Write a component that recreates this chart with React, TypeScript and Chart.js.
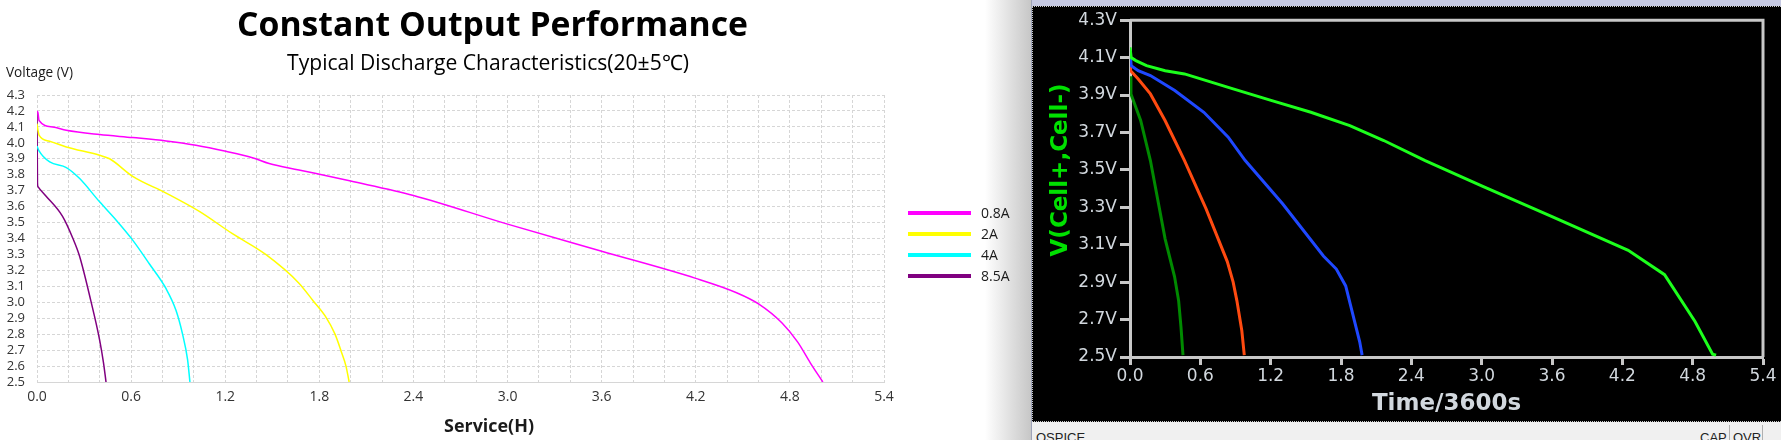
import React, { useEffect, useRef } from 'react';
import { Chart, registerables } from 'chart.js';

Chart.register(...registerables);

// ---------- Left chart (Excel style) ----------
const leftTitle = 'Constant Output Performance';
const leftSubtitle = 'Typical Discharge Characteristics(20±5℃)';
const leftYTitle = 'Voltage (V)';
const leftXTitle = 'Service(H)';
const leftLabels = ['0.8A', '2A', '4A', '8.5A'];
const leftColors = ['#ff00ff', '#ffff00', '#00ffff', '#800080'];

const left08T = [0, 0.006, 0.013, 0.1, 0.187, 0.399, 0.61, 0.823, 1.013, 1.204, 1.373, 1.48, 1.67, 2.0, 2.4, 3.0, 3.6, 4.2, 4.46, 4.6, 4.75, 4.85, 4.93, 5.01];
const left08V = [4.2, 4.19, 4.14, 4.1, 4.079, 4.052, 4.033, 4.012, 3.985, 3.947, 3.907, 3.87, 3.83, 3.76, 3.67, 3.49, 3.32, 3.15, 3.06, 2.99, 2.87, 2.75, 2.62, 2.5];

const left2T = [0, 0.006, 0.013, 0.08, 0.187, 0.399, 0.463, 0.61, 0.823, 1.035, 1.246, 1.458, 1.67, 1.76, 1.84, 1.9, 1.94, 1.97, 1.99];
const left2V = [4.12, 4.08, 4.048, 4.01, 3.974, 3.922, 3.9, 3.79, 3.685, 3.57, 3.43, 3.3, 3.12, 3.01, 2.91, 2.8, 2.69, 2.6, 2.5];

const left4T = [0, 0.013, 0.081, 0.187, 0.272, 0.399, 0.505, 0.61, 0.717, 0.823, 0.886, 0.928, 0.96, 0.975];
const left4V = [3.98, 3.95, 3.88, 3.845, 3.776, 3.63, 3.515, 3.39, 3.24, 3.085, 2.95, 2.8, 2.64, 2.5];

const left85T = [0, 0.003, 0.006, 0.054, 0.162, 0.229, 0.271, 0.343, 0.4, 0.424, 0.44];
const left85V = [4.2, 3.75, 3.725, 3.67, 3.54, 3.4, 3.29, 3.01, 2.76, 2.62, 2.5];

const leftXMin = 0, leftXMax = 5.4, leftXStep = 0.2, leftXLabelStep = 0.6;
const leftYMin = 2.5, leftYMax = 4.3, leftYStep = 0.1;

// ---------- Right chart (QSPICE style) ----------
const rightYTitle = 'V(Cell+,Cell-)';
const rightXTitle = 'Time/3600s';
const rightColors = ['#1cff1c', '#1f48ff', '#ff4a10', '#008a00'];

const rightAT = [0, 0.01, 0.05, 0.141, 0.3, 0.465, 0.88, 1.21, 1.543, 1.875, 2.165, 2.518, 3.0, 3.6, 4.25, 4.56, 4.82, 4.97, 5.0];
const rightAV = [4.155, 4.1, 4.084, 4.057, 4.03, 4.013, 3.933, 3.87, 3.808, 3.737, 3.657, 3.55, 3.415, 3.25, 3.07, 2.94, 2.69, 2.515, 2.51];

const rightBT = [0, 0.01, 0.07, 0.174, 0.382, 0.63, 0.838, 0.983, 1.3, 1.65, 1.76, 1.84, 1.88, 1.92, 1.96, 1.98];
const rightBV = [4.12, 4.057, 4.03, 4.004, 3.924, 3.808, 3.675, 3.55, 3.32, 3.04, 2.97, 2.88, 2.78, 2.68, 2.58, 2.51];

const rightCT = [0, 0.005, 0.07, 0.174, 0.299, 0.382, 0.465, 0.65, 0.83, 0.88, 0.912, 0.954, 0.975];
const rightCV = [4.09, 4.03, 3.986, 3.906, 3.764, 3.657, 3.55, 3.29, 3.01, 2.9, 2.8, 2.64, 2.51];

const rightDT = [0, 0.008, 0.091, 0.174, 0.3, 0.38, 0.415, 0.435, 0.452];
const rightDV = [4.0, 3.906, 3.764, 3.55, 3.13, 2.93, 2.8, 2.66, 2.51];

const rightXMin = 0, rightXMax = 5.4, rightXStep = 0.6;
const rightYMin = 2.5, rightYMax = 4.3, rightYStep = 0.2;

const zip = (xs: number[], ys: number[]) => xs.map((x, i) => ({ x, y: ys[i] }));
const isMult = (v: number, step: number) => Math.abs(v / step - Math.round(v / step)) < 1e-6;

function fitFont(ctx: CanvasRenderingContext2D, text: string, weight: string, family: string, target: number) {
  ctx.font = `${weight} 100px ${family}`;
  const w = ctx.measureText(text).width;
  const size = (100 * target) / w;
  ctx.font = `${weight} ${size}px ${family}`;
}

const LEFT_W = 1032;
const LEFT_H = 440;
const RIGHT_W = 746;
const RIGHT_H = 414;

export default function App() {
  const leftRef = useRef<HTMLCanvasElement>(null);
  const rightRef = useRef<HTMLCanvasElement>(null);

  useEffect(() => {
    const leftPlugin = {
      id: 'leftDecor',
      beforeDraw(chart: any) {
        const ctx = chart.ctx as CanvasRenderingContext2D;
        ctx.save();
        ctx.fillStyle = '#ffffff';
        ctx.fillRect(0, 0, chart.width, chart.height);
        const g = ctx.createLinearGradient(985, 0, 1032, 0);
        g.addColorStop(0, 'rgba(140,140,140,0)');
        g.addColorStop(1, 'rgba(140,140,140,0.5)');
        ctx.fillStyle = g;
        ctx.fillRect(985, 0, 47, chart.height);
        ctx.restore();
      },
      afterDraw(chart: any) {
        const ctx = chart.ctx as CanvasRenderingContext2D;
        ctx.save();
        ctx.textBaseline = 'alphabetic';
        ctx.fillStyle = '#000';
        ctx.textAlign = 'center';
        fitFont(ctx, leftTitle, 'bold', "'Open Sans'", 511);
        ctx.fillText(leftTitle, 492.5, 36);
        fitFont(ctx, leftSubtitle, 'normal', "'Open Sans'", 402);
        ctx.fillText(leftSubtitle, 488, 70);
        ctx.fillStyle = '#1a1a1a';
        fitFont(ctx, leftXTitle, 'bold', "'Open Sans'", 90);
        ctx.fillText(leftXTitle, 489, 432);
        ctx.textAlign = 'left';
        fitFont(ctx, leftYTitle, 'normal', "'Open Sans'", 67);
        ctx.fillText(leftYTitle, 6, 77);
        // legend
        const rows = [213, 234, 255, 276];
        ctx.font = "14px 'Open Sans'";
        ctx.textBaseline = 'middle';
        chart.data.datasets.forEach((ds: any, i: number) => {
          const y = rows[i];
          ctx.strokeStyle = ds.borderColor;
          ctx.lineWidth = 4;
          ctx.beginPath();
          ctx.moveTo(908, y);
          ctx.lineTo(971, y);
          ctx.stroke();
          ctx.fillStyle = '#1a1a1a';
          ctx.fillText(ds.label, 981, y + 1);
        });
        ctx.restore();
      },
    };

    const leftDatasets = [
      [left08T, left08V],
      [left2T, left2V],
      [left4T, left4V],
      [left85T, left85V],
    ].map(([t, v], i) => ({
      label: leftLabels[i],
      data: zip(t, v),
      borderColor: leftColors[i],
      backgroundColor: leftColors[i],
      borderWidth: 1.5,
      pointRadius: 0,
      cubicInterpolationMode: 'monotone' as const,
      fill: false,
    }));

    const leftChart = new Chart(leftRef.current!, {
      type: 'line',
      data: { datasets: leftDatasets },
      options: {
        responsive: false,
        animation: false,
        devicePixelRatio: 1,
        layout: { padding: { top: 95, right: LEFT_W - 884, left: 0, bottom: 0 } },
        plugins: { legend: { display: false }, title: { display: false }, tooltip: { enabled: false } },
        scales: {
          x: {
            type: 'linear',
            min: leftXMin,
            max: leftXMax,
            afterFit: (s: any) => { s.height = LEFT_H - 382; },
            ticks: {
              stepSize: leftXStep,
              autoSkip: false,
              maxRotation: 0,
              padding: 7,
              color: '#333',
              font: { family: "'Open Sans'", size: 14 },
              callback: (v: any) => (isMult(Number(v), leftXLabelStep) ? Number(v).toFixed(1) : ''),
            },
            grid: { color: '#d6d6d6', drawTicks: false, lineWidth: 1 },
            border: { display: true, color: '#d6d6d6', width: 1, dash: [3, 2] },
          },
          y: {
            type: 'linear',
            min: leftYMin,
            max: leftYMax,
            afterFit: (s: any) => { s.width = 37; },
            ticks: {
              stepSize: leftYStep,
              autoSkip: false,
              padding: 12,
              color: '#333',
              font: { family: "'Open Sans'", size: 13 },
              callback: (v: any) => Number(v).toFixed(1),
            },
            grid: { color: '#d6d6d6', drawTicks: false, lineWidth: 1 },
            border: { display: false, dash: [3, 2] },
          },
        },
      },
      plugins: [leftPlugin],
    });

    const rightPlugin = {
      id: 'rightDecor',
      beforeDraw(chart: any) {
        const ctx = chart.ctx as CanvasRenderingContext2D;
        ctx.save();
        ctx.fillStyle = '#000';
        ctx.fillRect(0, 0, chart.width, chart.height);
        ctx.restore();
      },
      afterDraw(chart: any) {
        const ctx = chart.ctx as CanvasRenderingContext2D;
        const a = chart.chartArea;
        ctx.save();
        ctx.strokeStyle = '#c8c8c8';
        ctx.lineWidth = 3;
        ctx.beginPath();
        ctx.moveTo(a.left, a.top);
        ctx.lineTo(a.right, a.top);
        ctx.lineTo(a.right, a.bottom);
        ctx.stroke();
        ctx.fillStyle = '#d2d8de';
        ctx.font = "bold 23px 'DejaVu Sans'";
        ctx.textAlign = 'center';
        ctx.textBaseline = 'alphabetic';
        ctx.fillText(rightXTitle, (a.left + a.right) / 2, 403);
        ctx.translate(26, 163);
        ctx.rotate(-Math.PI / 2);
        ctx.fillStyle = '#00e000';
        ctx.textBaseline = 'middle';
        ctx.fillText(rightYTitle, 0, 0);
        ctx.restore();
      },
    };

    const rightDatasets = [
      [rightAT, rightAV],
      [rightBT, rightBV],
      [rightCT, rightCV],
      [rightDT, rightDV],
    ].map(([t, v], i) => ({
      label: leftLabels[i],
      data: zip(t, v),
      borderColor: rightColors[i],
      backgroundColor: rightColors[i],
      borderWidth: 3,
      pointRadius: 0,
      tension: 0,
      fill: false,
    }));

    const rightChart = new Chart(rightRef.current!, {
      type: 'line',
      data: { datasets: rightDatasets },
      options: {
        responsive: false,
        animation: false,
        devicePixelRatio: 1,
        layout: { padding: { top: 12.5, right: RIGHT_W - 728, left: 0, bottom: 0 } },
        plugins: { legend: { display: false }, title: { display: false }, tooltip: { enabled: false } },
        scales: {
          x: {
            type: 'linear',
            min: rightXMin,
            max: rightXMax,
            afterFit: (s: any) => { s.height = RIGHT_H - 350; },
            ticks: {
              stepSize: rightXStep,
              autoSkip: false,
              maxRotation: 0,
              padding: 1,
              color: '#d2d8de',
              font: { family: "'DejaVu Sans'", size: 17 },
              callback: (v: any) => Number(v).toFixed(1),
            },
            grid: { drawOnChartArea: false, drawTicks: true, tickLength: 8, tickWidth: 3, tickColor: '#c8c8c8' },
            border: { display: true, color: '#c8c8c8', width: 3 },
          },
          y: {
            type: 'linear',
            min: rightYMin,
            max: rightYMax,
            afterFit: (s: any) => { s.width = 95; },
            ticks: {
              stepSize: rightYStep,
              autoSkip: false,
              padding: 3,
              color: '#d2d8de',
              font: { family: "'DejaVu Sans'", size: 17 },
              callback: (v: any) => Number(v).toFixed(1) + 'V',
            },
            grid: { drawOnChartArea: false, drawTicks: true, tickLength: 10, tickWidth: 3, tickColor: '#c8c8c8' },
            border: { display: true, color: '#c8c8c8', width: 3 },
          },
        },
      },
      plugins: [rightPlugin],
    });

    return () => {
      leftChart.destroy();
      rightChart.destroy();
    };
  }, []);

  return (
    <div style={{ position: 'absolute', left: 0, top: 0, width: 1781, height: 440, overflow: 'hidden', background: '#fff' }}>
      <canvas ref={leftRef} width={LEFT_W} height={LEFT_H} style={{ position: 'absolute', left: 0, top: 0, width: LEFT_W, height: LEFT_H }} />
      <div style={{ position: 'absolute', left: 1031, top: 0, width: 1, height: 440, background: '#9ea3b8' }} />
      <div style={{ position: 'absolute', left: 1032, top: 0, width: 749, height: 6, background: '#c6c9e2' }} />
      <div style={{ position: 'absolute', left: 1032, top: 6, width: 749, height: 416, background: '#000', border: '1px dotted #c8c8c8', boxSizing: 'border-box' }} />
      <canvas ref={rightRef} width={RIGHT_W} height={RIGHT_H} style={{ position: 'absolute', left: 1035, top: 7, width: RIGHT_W, height: RIGHT_H }} />
      <div style={{ position: 'absolute', left: 1032, top: 422, width: 749, height: 18, background: '#f0f0f0', fontFamily: "'Liberation Sans'", fontSize: 13, color: '#222' }}>
        <span style={{ position: 'absolute', left: 4, top: 8 }}>QSPICE</span>
        <span style={{ position: 'absolute', left: 668, top: 8 }}>CAP</span>
        <span style={{ position: 'absolute', left: 697, top: 3, width: 1, height: 20, background: '#b0b0b0' }} />
        <span style={{ position: 'absolute', left: 701, top: 8 }}>OVR</span>
        <span style={{ position: 'absolute', left: 730, top: 3, width: 1, height: 20, background: '#b0b0b0' }} />
      </div>
    </div>
  );
}
